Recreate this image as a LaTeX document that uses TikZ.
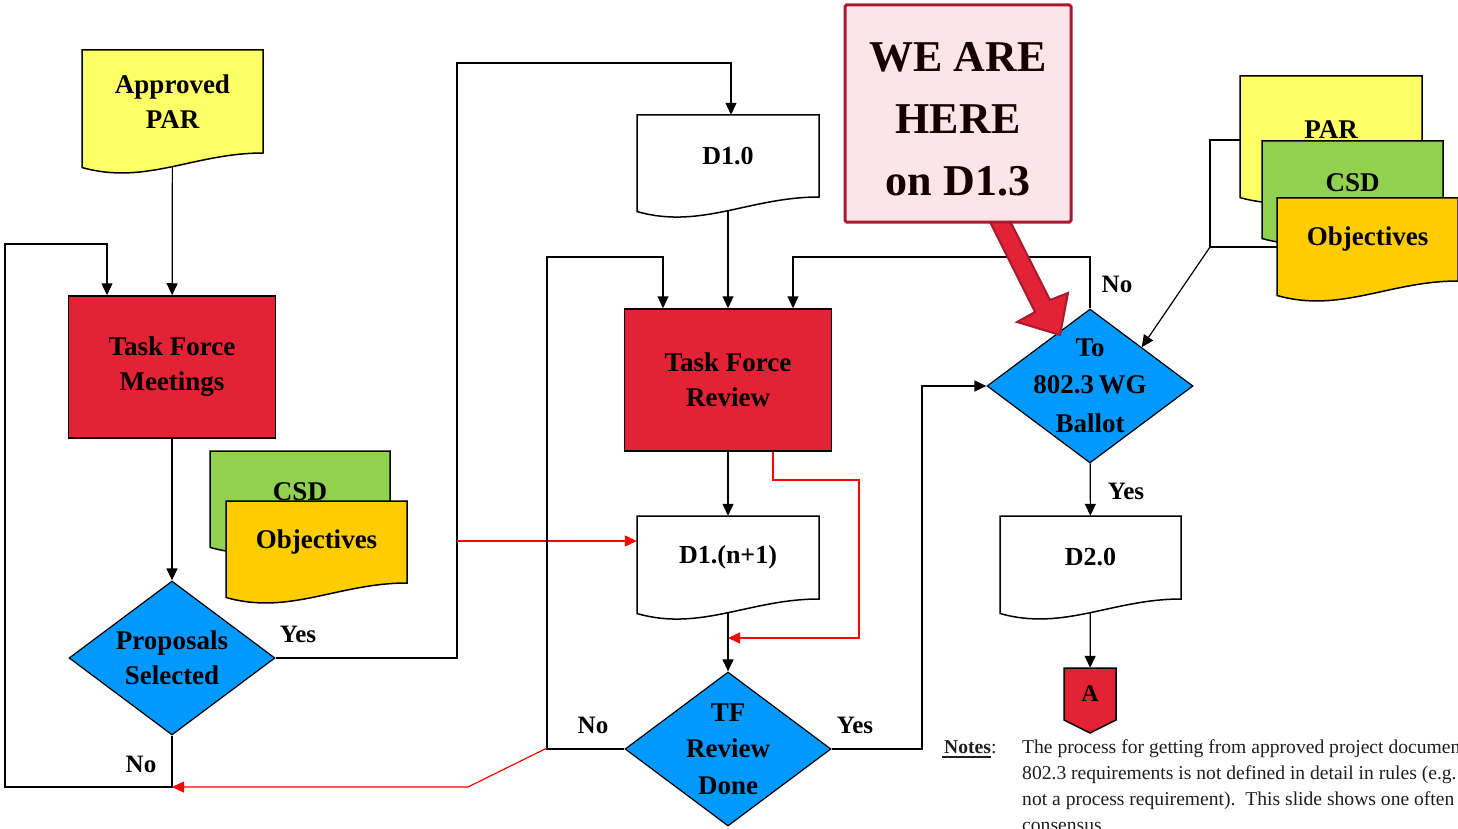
\documentclass[tikz,border=0pt]{standalone}
\usepackage{fontspec}
\setmainfont{Liberation Serif}
\usetikzlibrary{shapes.geometric,arrows.meta}

\definecolor{tfred}{HTML}{E32236}
\definecolor{decblue}{HTML}{0099FF}
\definecolor{paryellow}{HTML}{FFFF66}
\definecolor{csdgreen}{HTML}{92D050}
\definecolor{objgold}{HTML}{FFCC00}
\definecolor{herepink}{HTML}{FCE4E8}
\definecolor{hereline}{HTML}{A6192E}
\definecolor{notegray}{HTML}{1E1E1E}

\pgfdeclarelayer{back}
\pgfsetlayers{back,main}

% document symbol with wavy bottom: x, y (top), width, height, colour
\newcommand{\docshape}[5]{%
  \filldraw[fill=#5, line width=1.5pt] (#1,#2) -- (#1+#3,#2) -- (#1+#3,#2+#4)
    .. controls (#1+0.62*#3,#2+#4) and (#1+0.35*#3,#2+#4+0.18*#3) .. (#1,#2+#4+0.08*#3) -- cycle;}
% name, x, y, width, height, colour, text
\newcommand{\docnode}[7]{%
  \docshape{#2}{#3}{#4}{#5}{#6}
  \node[minimum width=#4pt, minimum height=#5pt] (#1) at (#2+#4/2,#3+#5/2) {#7};}

\begin{document}
\begin{tikzpicture}[x=1pt,y=-1pt,
  every node/.style={inner sep=0pt, align=center, font=\fontsize{27}{35}\selectfont\bfseries},
  arr/.style={-{Triangle[length=12pt,width=11pt]}, line width=1.2pt},
  redarr/.style={arr, red},
  task/.style={draw, fill=tfred, line width=1.5pt, minimum width=207pt, minimum height=142pt},
  decision/.style={diamond, draw, fill=decblue, line width=1.2pt, minimum width=206pt, minimum height=154pt},
  yesno/.style={font=\fontsize{25}{30}\selectfont\bfseries}]
\useasboundingbox (0,0) rectangle (1458,829);

% documents
\docnode{apar}{82}{50}{181}{103}{paryellow}{Approved\\PAR}
\docnode{lcsd}{210}{451}{180}{82}{csdgreen}{CSD}
\docnode{lobj}{226}{501}{181}{82}{objgold}{Objectives}
\docnode{d10}{637}{115}{182}{82}{white}{\fontsize{26}{30}\selectfont D1.0}
\docnode{d1n}{637}{516}{182}{83}{white}{\fontsize{26}{30}\selectfont D1.(n+1)}
\docnode{d20}{1000}{516}{181}{83}{white}{\fontsize{26}{30}\selectfont D2.0}
\docnode{rpar}{1240}{76}{182}{107}{paryellow}{PAR}
\docnode{rcsd}{1262}{141}{181}{83}{csdgreen}{CSD}
\docnode{robj}{1277}{198}{181}{83}{objgold}{Objectives}

% process boxes and decisions
\node[task] (tfm) at (172,367) {Task Force\\Meetings};
\node[task] (tfr) at (728,380) {Task Force\\Review};
\node[decision, label={center:{Proposals\\Selected}}] (psel) at (172,658) {};
\node[decision, label={center:{TF\\[1pt]Review\\[2pt]Done}}] (tfd) at (728,749) {};
\node[decision, label={center:{To\\[2pt]802.3\,WG\\[4pt]Ballot}}] (ballot) at (1090,386) {};

% off-page connector
\filldraw[fill=tfred, line width=1.5pt] (1064,668) -- (1116,668) -- (1116,720) -- (1090,733) -- (1064,720) -- cycle;
\node[minimum width=52pt, minimum height=52pt, font=\fontsize{24}{28}\selectfont\bfseries] (conA) at (1090,694) {A};

\begin{pgfonlayer}{back}
\draw[arr] (apar) -- (tfm);
\draw[arr] (tfm) -- (psel);
\draw[arr] (psel.south) |- (5,787) |- (107,244) -- ([xshift=-65pt]tfm.north);
\draw[arr] (psel.east) -| (457,63) -| ([xshift=3pt]d10.north);
\draw[redarr] (457,541) -- ([yshift=16.5pt]d1n.west);
\draw[arr] (d10) -- (tfr);
\draw[arr] (tfr) -- (d1n);
\draw[redarr] ([xshift=45pt]tfr.south) |- (859,480) |- (728,638);
\draw[arr] (d1n) -- (tfd);
\draw[arr] (tfd.west) -| (547,257) -| ([xshift=-65pt]tfr.north);
\draw[redarr] (547,748) -- (468,787) -- (172,787);
\draw[arr] (tfd.east) -| (922,386) -- (ballot.west);
\draw[arr] (ballot.north) -- (1090,257) -| ([xshift=65pt]tfr.north);
\draw[arr] (ballot) -- (d20);
\draw[arr] (d20) -- (conA);
\draw[line width=1.2pt] ([yshift=-10.5pt]rpar.west) -| (1210,247) -- ([yshift=-7.5pt]robj.west);
\draw[arr] (1210,247) -- (ballot.north east);
\end{pgfonlayer}

% branch labels
\node[yesno] (ys1) at (298,634) {Yes};
\node[yesno] (no1) at (141,764) {No};
\node[yesno] (no2) at (593,725) {No};
\node[yesno] (ys2) at (855,725) {Yes};
\node[yesno] (no3) at (1117,284) {No};
\node[yesno] (ys3) at (1126,491) {Yes};

% notes
\node[anchor=base west, font=\fontsize{19.6}{26}\selectfont, text=notegray] (nthead) at (944,753)
  {\textbf{Notes}\llap{\rule[-4.5pt]{49pt}{1.8pt}}:};
\node[anchor=north west, align=left, font=\fontsize{19.6}{26}\selectfont, text=notegray] (ntbody) at (1022,739.5)
  {The process for getting from approved project documents\\
   802.3 requirements is not defined in detail in rules (e.g.\\
   not a process requirement).\ \ This slide shows one often\\
   consensus.};

% we are here
\filldraw[fill=tfred, draw=hereline, line width=2pt] (989,220) -- (1035,312) -- (1017,322) -- (1060,335)
  -- (1068,293) -- (1050,300) -- (1007,215) -- cycle;
\node[draw=hereline, fill=herepink, line width=3pt, rounded corners=1.5pt, minimum width=226pt, minimum height=217pt,
  font=\fontsize{44}{62}\selectfont\bfseries, text={black!90!red}] (here) at (958,113.5)
  {\rule{0pt}{40pt}WE ARE\\HERE\\on D1.3};
\end{tikzpicture}
\end{document}
